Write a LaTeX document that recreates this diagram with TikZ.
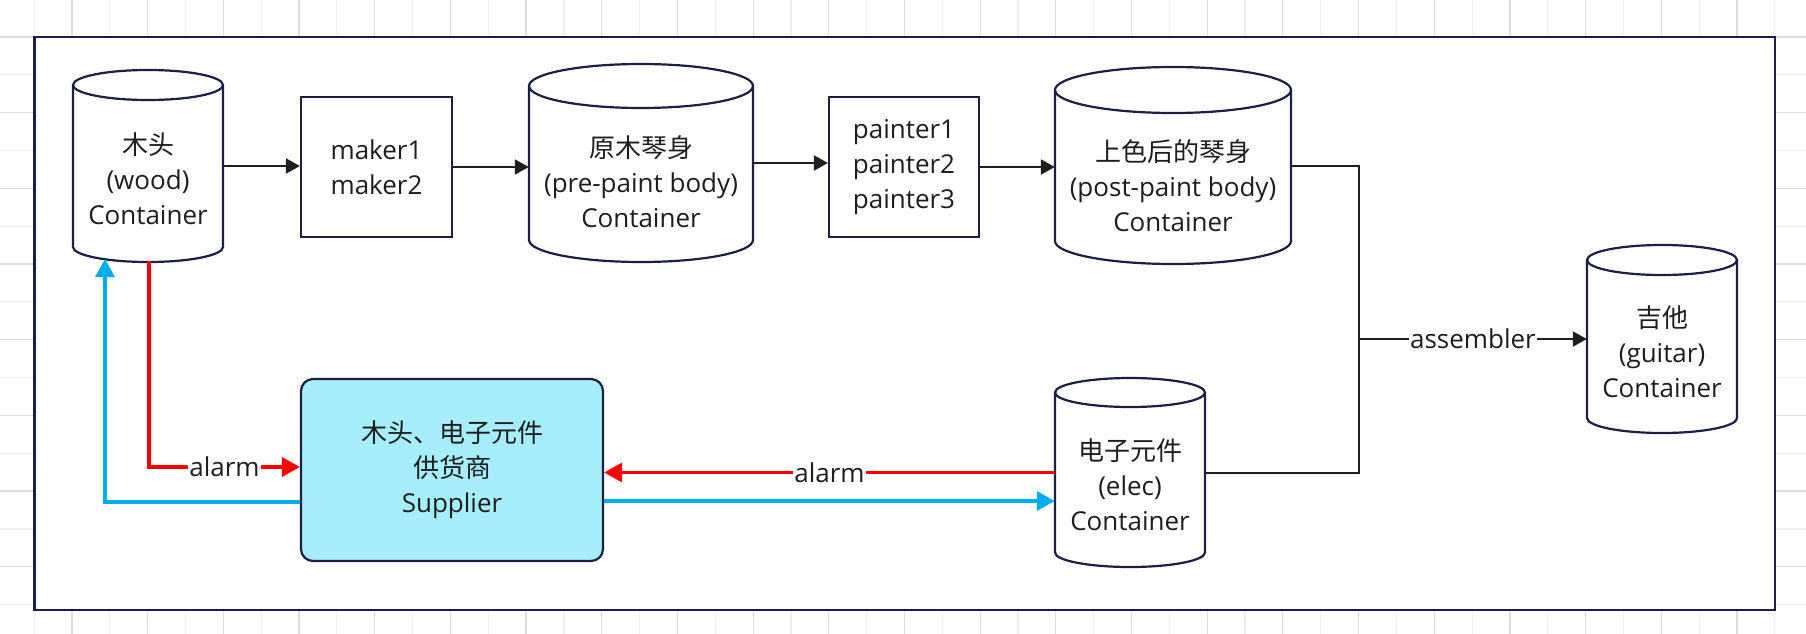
\documentclass[tikz,border=0pt]{standalone}
\usepackage{fontspec}
\setmainfont{Open Sans}
\newfontfamily\cjk{Noto Sans CJK SC}
\usetikzlibrary{arrows.meta}
\definecolor{navy}{HTML}{1B1F45}
\definecolor{txt}{HTML}{1E1E1E}
\definecolor{alarmred}{HTML}{FF0000}
\definecolor{feedblue}{HTML}{00AEEF}
\definecolor{supfill}{HTML}{A6EEFC}
\definecolor{gridminor}{HTML}{EEEEEE}
\definecolor{gridmajor}{HTML}{DDDDDD}
\tikzset{
  lbl/.style={font=\fontsize{26}{35}\selectfont, text=txt, align=center, inner sep=0pt},
  boxnode/.style={draw=navy, line width=2.2pt, fill=white, inner sep=0pt},
  cylbody/.style={draw=navy, line width=2.2pt, fill=white},
  cylnode/.style={inner sep=0pt, draw=none},
  conn/.style={draw=txt, line width=2pt, -{Triangle[length=14pt,width=15pt]}},
  plainconn/.style={draw=txt, line width=2pt},
  redconn/.style={draw=alarmred, line width=3.5pt, -{Triangle[length=18pt,width=19pt]}},
  blueconn/.style={draw=feedblue, line width=3.5pt, -{Triangle[length=18pt,width=19pt]}},
  tag/.style={fill=white, inner sep=1pt, font=\fontsize{26}{35}\selectfont, text=txt},
}
% #1 name, #2 cx, #3 top, #4 bottom, #5 rx, #6 ry
\newcommand\drawcyl[6]{%
  \path[cylbody] (#2-#5,#3+#6) -- (#2-#5,#4-#6)
     arc[start angle=180,end angle=0,x radius=#5,y radius=#6]
     -- (#2+#5,#3+#6)
     arc[start angle=0,end angle=-180,x radius=#5,y radius=#6] -- cycle;
  \draw[navy, line width=2.2pt] (#2-#5,#3+#6)
     arc[start angle=180,end angle=0,x radius=#5,y radius=#6];
  \node[cylnode, minimum width=2*#5 pt, minimum height=#4-#3 pt] (#1) at (#2,{(#3+#4)/2}) {};
}
\begin{document}
\begin{tikzpicture}[x=1pt,y=-1pt]
\useasboundingbox (0,0) rectangle (1806,634);
\fill[white] (0,0) rectangle (1806,634);
% background grid
\foreach \i in {0,...,48} {
  \pgfmathsetmacro\gx{-3.68+37.84*\i}
  \pgfmathtruncatemacro\odd{mod(\i,2)}
  \ifnum\odd=0
    \draw[gridmajor, line width=1.2pt] (\gx,0) -- (\gx,634);
  \else
    \draw[gridminor, line width=1.2pt] (\gx,0) -- (\gx,634);
  \fi
}
\foreach \j in {0,...,17} {
  \pgfmathsetmacro\gy{-0.84+37.84*\j}
  \pgfmathtruncatemacro\odd{mod(\j,2)}
  \ifnum\odd=0
    \draw[gridminor, line width=1.2pt] (0,\gy) -- (1806,\gy);
  \else
    \draw[gridmajor, line width=1.2pt] (0,\gy) -- (1806,\gy);
  \fi
}
% frame
\draw[navy, line width=2.5pt, fill=white] (34.5,37) rectangle (1775,610);

% cylinders
\drawcyl{wood}{148}{70}{262}{75}{15}
\node[lbl] (woodtxt) at (148,179) {{\cjk 木头}\\(wood)\\Container};
\drawcyl{pre}{641}{64}{262}{112}{22}
\node[lbl] (pretxt) at (641,182) {{\cjk 原木琴身}\\(pre-paint body)\\Container};
\drawcyl{post}{1173}{67}{264}{118}{23}
\node[lbl] (posttxt) at (1173,186) {{\cjk 上色后的琴身}\\(post-paint body)\\Container};
\drawcyl{guitar}{1662}{245}{433}{75}{15}
\node[lbl] (guitartxt) at (1662,352) {{\cjk 吉他}\\(guitar)\\Container};
\drawcyl{elec}{1130}{378}{567}{75}{14.5}
\node[lbl] (electxt) at (1130,485) {{\cjk 电子元件}\\(elec)\\Container};

% boxes
\node[boxnode, minimum width=151pt, minimum height=140pt] (maker) at (376.5,167) {};
\node[lbl] (makertxt) at (maker) {maker1\\maker2};
\node[boxnode, minimum width=150pt, minimum height=140pt] (painter) at (904,167) {};
\node[lbl] (paintertxt) at (painter) {painter1\\painter2\\painter3};
\node[boxnode, fill=supfill, rounded corners=12pt, minimum width=302pt, minimum height=182pt] (supplier) at (452,470) {};
\node[lbl] (suppliertxt) at (supplier) {{\cjk 木头、电子元件}\\{\cjk 供货商}\\Supplier};

% black flow
\draw[conn] (wood.east) -- (wood.east -| maker.west);
\draw[conn] (maker.east) -- (maker.east -| pre.west);
\draw[conn] (pre.east) -- (pre.east -| painter.west);
\draw[conn] (painter.east) -- (painter.east -| post.west);
\coordinate (join) at (1359,339);
\draw[plainconn] (post.east) -| (join) |- (elec.east);
\draw[conn] (join) -- (join -| guitar.west) node[tag, midway] {assembler};

% alarms and supply
\coordinate (woodR) at (149,261);
\coordinate (woodB) at (105,259);
\draw[redconn] (woodR) |- ([yshift=3pt]supplier.west) node[tag, pos=0.75] {alarm};
\draw[blueconn] ([yshift=-32pt]supplier.west) -| (woodB);
\draw[redconn] (elec.west) -- (elec.west -| supplier.east) node[tag, midway] {alarm};
\draw[blueconn] ([yshift=-31pt]supplier.east) -- ([yshift=-31pt]supplier.east -| elec.west);
\end{tikzpicture}
\end{document}
